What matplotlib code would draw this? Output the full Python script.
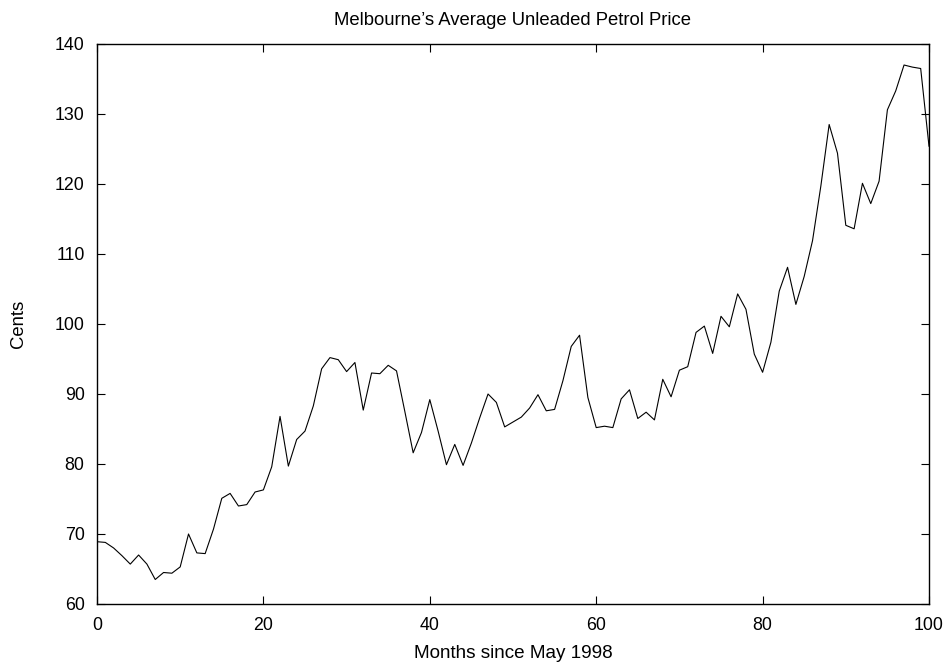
import matplotlib
matplotlib.use("Agg")
import matplotlib.pyplot as plt
import numpy as np

plt.rcParams['font.family'] = ['Liberation Sans', 'DejaVu Sans']

months = np.arange(0, 101)
price_cents = [
    68.9, 68.8, 68.0, 66.9, 65.7, 67.0, 65.7, 63.5, 64.5, 64.4,
    65.3, 70.0, 67.3, 67.2, 70.7, 75.1, 75.8, 74.0, 74.2, 76.0,
    76.3, 79.6, 86.8, 79.7, 83.5, 84.7, 88.3, 93.6, 95.2, 94.9,
    93.2, 94.5, 87.7, 93.0, 92.9, 94.1, 93.3, 87.5, 81.6, 84.5,
    89.2, 84.7, 79.9, 82.8, 79.8, 83.0, 86.6, 90.0, 88.8, 85.3,
    86.0, 86.7, 88.0, 89.9, 87.6, 87.8, 91.9, 96.8, 98.4, 89.5,
    85.2, 85.4, 85.2, 89.3, 90.6, 86.5, 87.4, 86.3, 92.1, 89.6,
    93.4, 93.9, 98.8, 99.7, 95.8, 101.1, 99.6, 104.3, 102.1, 95.7,
    93.1, 97.4, 104.7, 108.1, 102.8, 106.8, 111.9, 119.7, 128.5, 124.4,
    114.1, 113.6, 120.1, 117.2, 120.4, 130.6, 133.3, 137.0, 136.7, 136.5,
    125.4,
]

x_ticks = [0, 20, 40, 60, 80, 100]
y_ticks = [60, 70, 80, 90, 100, 110, 120, 130, 140]

W, H = 949, 664
fig = plt.figure(figsize=(W / 100, H / 100), dpi=100)
ax = fig.add_axes([97 / W, (H - 604) / H, (929 - 97) / W, (604 - 44) / H])

ax.plot(months, price_cents, color='black', linewidth=0.8)

ax.set_xlim(0, 100)
ax.set_ylim(60, 140)
ax.set_xticks(x_ticks)
ax.set_yticks(y_ticks)
ax.tick_params(direction='in', length=6, width=0.8, top=True, right=True,
               labelsize=12.8, pad=9)
for s in ax.spines.values():
    s.set_linewidth(1.0)

ax.set_title("Melbourne\u2019s Average Unleaded Petrol Price", fontsize=13.3, pad=14)
ax.set_xlabel("Months since May 1998", fontsize=13.6, labelpad=8)
ax.set_ylabel("Cents", fontsize=13.3, labelpad=20)

fig.savefig("out.png", dpi=100)
